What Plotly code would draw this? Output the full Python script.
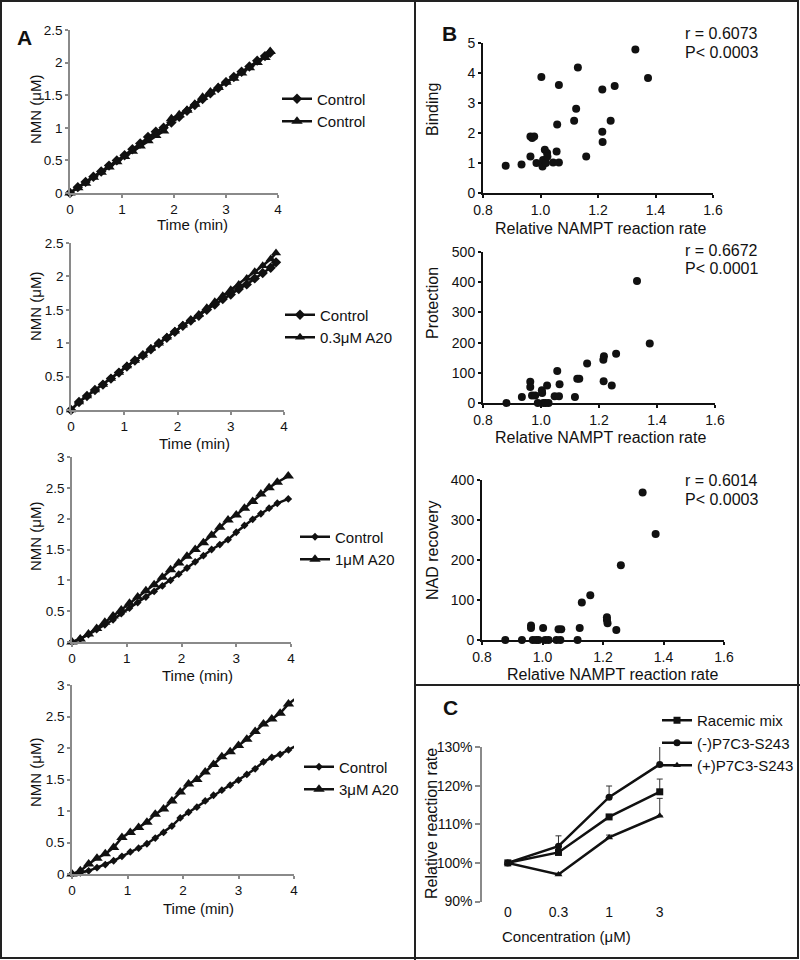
import plotly.graph_objects as go

W, H = 800, 960


def px(x):
    return x / W


def py(y):
    return 1 - y / H


FONT = "Liberation Sans, Arial, Helvetica, sans-serif"

# ---------------- Panel A data ----------------
a1_time = [0, 0.15, 0.3, 0.45, 0.6, 0.75, 0.9, 1.05, 1.2, 1.35, 1.5, 1.65, 1.8, 1.95,
           2.1, 2.25, 2.4, 2.55, 2.7, 2.85, 3.0, 3.15, 3.3, 3.45, 3.6, 3.75, 3.85]
a1_control_d = [0, 0.09, 0.17, 0.25, 0.33, 0.42, 0.50, 0.58, 0.67, 0.76, 0.86, 0.94, 1.00, 1.08,
                1.17, 1.26, 1.35, 1.44, 1.53, 1.61, 1.70, 1.78, 1.86, 1.94, 2.03, 2.10, 2.15]
a1_control_t = [0, 0.08, 0.15, 0.24, 0.32, 0.40, 0.48, 0.56, 0.64, 0.72, 0.80, 0.88, 0.95, 1.14,
                1.20, 1.27, 1.36, 1.47, 1.55, 1.62, 1.70, 1.76, 1.84, 1.92, 2.00, 2.08, 2.17]

a2_time = [0, 0.15, 0.3, 0.45, 0.6, 0.75, 0.9, 1.05, 1.2, 1.35, 1.5, 1.65, 1.8, 1.95,
           2.1, 2.25, 2.4, 2.55, 2.7, 2.85, 3.0, 3.15, 3.3, 3.45, 3.6, 3.75, 3.85]
a2_control = [0, 0.12, 0.21, 0.30, 0.38, 0.47, 0.56, 0.65, 0.74, 0.82, 0.91, 1.00, 1.08, 1.17,
              1.26, 1.34, 1.41, 1.50, 1.58, 1.66, 1.73, 1.81, 1.88, 1.97, 2.05, 2.13, 2.21]
a2_a20 = [0, 0.12, 0.21, 0.30, 0.38, 0.47, 0.56, 0.66, 0.74, 0.82, 0.92, 1.00, 1.09, 1.18,
          1.27, 1.35, 1.43, 1.53, 1.62, 1.71, 1.80, 1.88, 1.97, 2.07, 2.16, 2.26, 2.35]

a3_time = [0, 0.15, 0.3, 0.45, 0.6, 0.75, 0.9, 1.05, 1.2, 1.35, 1.5, 1.65, 1.8, 1.95,
           2.1, 2.25, 2.4, 2.55, 2.7, 2.85, 3.0, 3.15, 3.3, 3.45, 3.6, 3.75, 3.95]
a3_control = [0, 0.05, 0.12, 0.20, 0.28, 0.36, 0.46, 0.55, 0.64, 0.73, 0.82, 0.91, 1.00, 1.10,
              1.20, 1.30, 1.40, 1.50, 1.58, 1.66, 1.78, 1.89, 1.99, 2.08, 2.17, 2.25, 2.32]
a3_a20 = [0, 0.05, 0.13, 0.22, 0.32, 0.42, 0.52, 0.63, 0.73, 0.83, 0.93, 1.05, 1.17, 1.28,
          1.39, 1.50, 1.61, 1.73, 1.86, 1.98, 2.06, 2.17, 2.28, 2.40, 2.50, 2.59, 2.69]

a4_time = [0, 0.15, 0.3, 0.45, 0.6, 0.75, 0.9, 1.05, 1.2, 1.35, 1.5, 1.65, 1.8, 1.95,
           2.1, 2.25, 2.4, 2.55, 2.7, 2.85, 3.0, 3.15, 3.3, 3.45, 3.6, 3.75, 3.9, 4.05]
a4_control = [0, 0.02, 0.05, 0.10, 0.15, 0.21, 0.28, 0.35, 0.41, 0.48, 0.57, 0.66, 0.76, 0.89,
              0.98, 1.06, 1.16, 1.25, 1.33, 1.41, 1.49, 1.58, 1.67, 1.78, 1.85, 1.90, 1.97, 2.04]
a4_a20 = [0, 0.05, 0.16, 0.25, 0.32, 0.42, 0.58, 0.66, 0.74, 0.82, 0.95, 1.03, 1.16, 1.30,
          1.43, 1.50, 1.62, 1.74, 1.86, 1.94, 2.04, 2.14, 2.26, 2.38, 2.46, 2.55, 2.70, 2.80]

# ---------------- Panel B data ----------------
b1_rate = [0.879, 0.934, 0.965, 0.965, 0.971, 0.978, 0.986, 1.003, 1.007, 1.009, 1.015, 1.019,
           1.023, 1.024, 1.044, 1.056, 1.058, 1.064, 1.064, 1.117, 1.124, 1.130, 1.159, 1.215,
           1.215, 1.216, 1.244, 1.258, 1.330, 1.374]
b1_binding = [0.91, 0.95, 1.22, 1.88, 1.83, 1.88, 1.00, 3.87, 0.88, 1.10, 1.44, 1.00,
              1.33, 1.22, 1.02, 1.38, 2.28, 1.02, 3.60, 2.41, 2.81, 4.18, 1.22, 3.45,
              2.04, 1.70, 2.41, 3.57, 4.78, 3.83]

b2_rate = [0.881, 0.934, 0.963, 0.963, 0.969, 0.980, 0.989, 1.003, 1.004, 1.008, 1.016, 1.021,
           1.026, 1.047, 1.056, 1.062, 1.064, 1.117, 1.125, 1.132, 1.159, 1.215, 1.217, 1.216,
           1.244, 1.259, 1.331, 1.375]
b2_protection = [0, 20, 70, 53, 25, 25, 0, 42, 33, 0, 0, 58,
                 0, 22, 106, 22, 62, 20, 80, 80, 131, 143, 155, 72,
                 58, 163, 404, 197]

b3_rate = [0.877, 0.932, 0.962, 0.962, 0.968, 0.979, 0.987, 1.002, 1.009, 1.020, 1.046, 1.053,
           1.062, 1.059, 1.116, 1.123, 1.130, 1.158, 1.213, 1.213, 1.215, 1.244, 1.259, 1.331,
           1.374]
b3_nad = [0, 0, 36, 30, 0, 0, 0, 30, 0, 0, 0, 27,
          27, 0, 0, 30, 94, 112, 57, 50, 42, 25, 187, 369,
          265]

b_stats = [("r = 0.6073", "P< 0.0003"), ("r = 0.6672", "P< 0.0001"), ("r = 0.6014", "P< 0.0003")]

# ---------------- Panel C data ----------------
c_conc = ["0", "0.3", "1", "3"]
c_racemic = [100, 102.7, 111.9, 118.4]
c_racemic_err = [0, 0.4, 0.4, 3.3]
c_minus = [100, 104.3, 117.0, 125.5]
c_minus_err = [0, 2.7, 2.9, 5.3]
c_plus = [100, 97.0, 106.6, 112.2]
c_plus_err = [0, 0.3, 0.6, 4.5]

fig = go.Figure()

BLACK = "#111111"
GRAY = "#8a8a8a"


def a_pair(xa, ya, t, d, tr, name_d, name_t, leg, dsize, tsize):
    fig.add_trace(go.Scatter(x=t, y=d, mode="lines+markers", name=name_d,
                             line=dict(color=BLACK, width=2.5),
                             marker=dict(symbol="diamond", size=dsize, color=BLACK),
                             xaxis=xa, yaxis=ya, legend=leg, cliponaxis=False))
    fig.add_trace(go.Scatter(x=t, y=tr, mode="lines+markers", name=name_t,
                             line=dict(color=BLACK, width=2.5),
                             marker=dict(symbol="triangle-up", size=tsize, color=BLACK),
                             xaxis=xa, yaxis=ya, legend=leg, cliponaxis=False))


a_pair("x", "y", a1_time, a1_control_d, a1_control_t, "Control", "Control", "legend", 8, 10)
a_pair("x2", "y2", a2_time, a2_control, a2_a20, "Control", "0.3μM A20", "legend2", 8, 9)
a_pair("x3", "y3", a3_time, a3_control, a3_a20, "Control", "1μM A20", "legend3", 6, 10)
a_pair("x4", "y4", a4_time, a4_control, a4_a20, "Control", "3μM A20", "legend4", 6, 10)

for xa, ya, xs, ys in [("x5", "y5", b1_rate, b1_binding),
                       ("x6", "y6", b2_rate, b2_protection),
                       ("x7", "y7", b3_rate, b3_nad)]:
    fig.add_trace(go.Scatter(x=xs, y=ys, mode="markers", showlegend=False,
                             marker=dict(symbol="circle", size=8, color=BLACK),
                             xaxis=xa, yaxis=ya, cliponaxis=False))

for name, vals, err, sym in [("Racemic mix", c_racemic, c_racemic_err, "square"),
                             ("(-)P7C3-S243", c_minus, c_minus_err, "circle"),
                             ("(+)P7C3-S243", c_plus, c_plus_err, "triangle-up")]:
    fig.add_trace(go.Scatter(x=c_conc, y=vals, mode="lines+markers", name=name,
                             line=dict(color=BLACK, width=2.5),
                             marker=dict(symbol=sym, size=7, color=BLACK),
                             error_y=dict(type="data", symmetric=False, array=err,
                                          arrayminus=[0, 0, 0, 0], color="#333333",
                                          thickness=1, width=3),
                             xaxis="x8", yaxis="y8", legend="legend5", cliponaxis=False))

# ---------------- axes ----------------
a_ax = dict(showline=True, linecolor=GRAY, linewidth=1.5, ticks="outside", ticklen=3,
            tickcolor=GRAY, tickwidth=1.5, showgrid=False, zeroline=False, automargin=False,
            tickfont=dict(size=13.5, color=BLACK, family=FONT))
b_ax = dict(showline=True, linecolor=BLACK, linewidth=2, ticks="outside", ticklen=3,
            tickcolor=BLACK, tickwidth=2, showgrid=False, zeroline=False, automargin=False,
            tickfont=dict(size=14, color=BLACK, family=FONT))

layout_axes = {}
a_geom = [(70, 278, 193, 30, 2.5, 0.5), (71, 284, 410, 243, 2.5, 0.5),
          (72, 291, 642, 457, 3, 0.5), (72, 294, 874, 685, 3, 0.5)]
for i, (xl, xr, y0, y1, ymax, dt) in enumerate(a_geom):
    n = "" if i == 0 else str(i + 1)
    layout_axes["xaxis" + n] = dict(a_ax, domain=[px(xl), px(xr)], range=[0, 4], dtick=1,
                                    anchor="y" + n)
    layout_axes["yaxis" + n] = dict(a_ax, domain=[py(y0), py(y1)], range=[0, ymax], dtick=dt,
                                    anchor="x" + n)

b_geom = [(483, 713, 193, 43, 5, 1), (483, 715, 403, 252, 500, 100), (482, 724, 640, 480, 400, 100)]
for i, (xl, xr, y0, y1, ymax, dt) in enumerate(b_geom):
    n = str(i + 5)
    layout_axes["xaxis" + n] = dict(b_ax, domain=[px(xl), px(xr)], range=[0.8, 1.6], dtick=0.2,
                                    tickformat=".1f", anchor="y" + n)
    layout_axes["yaxis" + n] = dict(b_ax, domain=[py(y0), py(y1)], range=[0, ymax], dtick=dt,
                                    anchor="x" + n)

layout_axes["xaxis8"] = dict(type="category", categoryorder="array", categoryarray=c_conc,
                             domain=[px(482), px(680)], range=[-0.51, 3.4], showline=False,
                             ticks="", showgrid=False, zeroline=False, anchor="y8",
                             automargin=False,
                             tickfont=dict(size=14, color=BLACK, family=FONT))
layout_axes["yaxis8"] = dict(domain=[py(901.5), py(747)], range=[90, 130], dtick=10,
                             ticksuffix="%", showline=True, linecolor=GRAY, linewidth=1.5,
                             ticks="outside", ticklen=5, tickcolor=GRAY, tickwidth=1.5,
                             showgrid=False, zeroline=False, anchor="x8", automargin=False,
                             tickfont=dict(size=14, color=BLACK, family=FONT))

# ---------------- annotations ----------------
ann = []


def text(x, y, s, size=15, angle=0, xanchor="center", bold=False):
    ann.append(dict(x=px(x), y=py(y), xref="paper", yref="paper",
                    text=("<b>%s</b>" % s) if bold else s,
                    showarrow=False, textangle=angle, xanchor=xanchor, yanchor="middle",
                    font=dict(size=size, color=BLACK, family=FONT)))


for (nx, ny, tx, ty) in [(35, 110, 192, 224), (35, 307, 194, 443), (35, 537, 197, 675), (35, 773, 198, 908)]:
    text(nx, ny, "NMN (μM)", 15, -90)
    text(tx, ty, "Time (min)", 15)

for (lbl, lx, ly, tx, ty) in [("Binding", 432, 110, 600, 228), ("Protection", 432, 303, 600, 437),
                              ("NAD recovery", 432, 550, 612, 674)]:
    text(lx, ly, lbl, 16, -90)
    text(tx, ty, "Relative NAMPT reaction rate", 16)
for (r, p), (yr, yp) in zip(b_stats, [(33, 52), (250, 268), (480, 499)]):
    text(683, yr, r, 16, xanchor="left")
    text(683, yp, p, 16, xanchor="left")

text(431, 823, "Relative reaction rate", 16, -90)
text(566, 936, "Concentration (μM)", 15)

text(24, 37, "A", 21, bold=True)
text(449, 33, "B", 21, bold=True)
text(450, 707, "C", 21, bold=True)


def leg(xtext, ycenter):
    return dict(x=px(xtext - 40), y=py(ycenter), xanchor="left", yanchor="middle",
                bgcolor="rgba(0,0,0,0)", borderwidth=0, tracegroupgap=0,
                font=dict(size=15, color=BLACK, family=FONT), itemwidth=30)


shapes = [
    dict(type="rect", xref="paper", yref="paper", x0=px(1), y0=py(1), x1=px(798), y1=py(958),
         line=dict(color="#222222", width=2)),
    dict(type="line", xref="paper", yref="paper", x0=px(415), y0=py(0), x1=px(415), y1=py(960),
         line=dict(color="#222222", width=2)),
    dict(type="line", xref="paper", yref="paper", x0=px(415), y0=py(685), x1=px(800), y1=py(685),
         line=dict(color="#222222", width=2)),
]

fig.update_layout(
    template="none",
    width=W, height=H, autosize=False, margin=dict(l=0, r=0, t=0, b=0, pad=0, autoexpand=False),
    paper_bgcolor="white", plot_bgcolor="white",
    font=dict(family=FONT, color=BLACK),
    annotations=ann, shapes=shapes,
    legend=leg(317, 110), legend2=leg(320, 326), legend3=leg(335, 548), legend4=leg(339, 778),
    legend5=leg(697, 743),
    **layout_axes,
)

fig.write_html("out.html", config={"displayModeBar": False},
               post_script="document.body.style.margin='0';document.body.style.padding='0';"
                           "document.body.style.overflow='hidden';")
